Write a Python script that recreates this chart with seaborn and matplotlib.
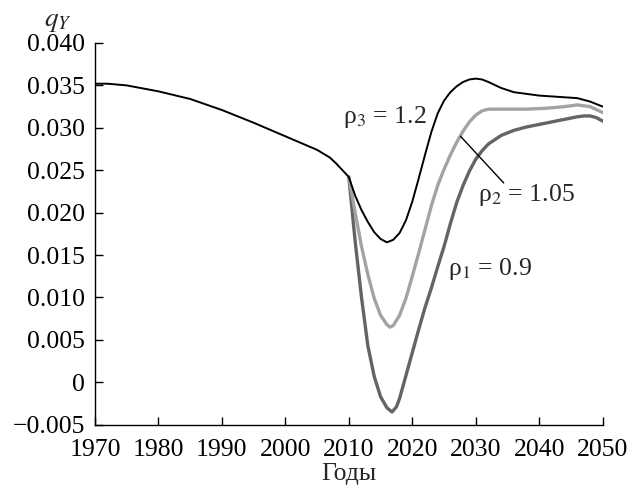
import numpy as np
import pandas as pd
import seaborn as sns
import matplotlib
matplotlib.use("Agg")
import matplotlib.pyplot as plt

# ========================== DATA ==========================
# common history (ρ3 curve carries it)
years_hist = [1970, 1972, 1975, 1980, 1985, 1990, 1995, 2000, 2005, 2007, 2008, 2009]
q_hist = [0.0352, 0.0352, 0.0350, 0.0343, 0.0334, 0.0321, 0.0306, 0.0290, 0.0274, 0.0265, 0.0258, 0.0250]

years_rho3 = [2010, 2011, 2012, 2013, 2014, 2015, 2016, 2017, 2018, 2019, 2020, 2021,
              2022, 2023, 2024, 2025, 2026, 2027, 2028, 2029, 2030, 2031, 2032, 2034,
              2036, 2038, 2040, 2042, 2044, 2046, 2048, 2050]
q_rho3 = [0.0242, 0.0220, 0.0203, 0.0189, 0.0177, 0.0169, 0.0165, 0.0168, 0.0176, 0.0191,
          0.0213, 0.0240, 0.0268, 0.0295, 0.0317, 0.0332, 0.0342, 0.0349, 0.0354, 0.0357,
          0.0358, 0.0357, 0.0354, 0.0347, 0.0342, 0.0340, 0.0338, 0.0337, 0.0336, 0.0335,
          0.0331, 0.0325]

years_rho2 = [2010, 2011, 2012, 2013, 2014, 2015, 2016, 2016.5, 2017, 2018, 2019, 2020,
              2021, 2022, 2023, 2024, 2025, 2026, 2027, 2028, 2029, 2030, 2031, 2032,
              2035, 2038, 2041, 2044, 2046, 2048, 2050]
q_rho2 = [0.0242, 0.0200, 0.0160, 0.0127, 0.0099, 0.0079, 0.0068, 0.0065, 0.0067, 0.0079,
          0.0099, 0.0125, 0.0152, 0.0180, 0.0208, 0.0232, 0.0251, 0.0268, 0.0283, 0.0296,
          0.0307, 0.0315, 0.0320, 0.0322, 0.0322, 0.0322, 0.0323, 0.0325, 0.0327, 0.0325,
          0.0318]

years_rho1 = [2010, 2011, 2012, 2013, 2014, 2015, 2016, 2016.8, 2017.5, 2018, 2019, 2020,
              2021, 2022, 2023, 2024, 2025, 2026, 2027, 2028, 2029, 2030, 2031, 2032,
              2034, 2036, 2038, 2040, 2042, 2044, 2046, 2047, 2048, 2049, 2050]
q_rho1 = [0.0242, 0.0166, 0.0100, 0.0043, 0.0007, -0.0017, -0.0030, -0.0035, -0.0029, -0.0019,
          0.0008, 0.0035, 0.0062, 0.0088, 0.0111, 0.0136, 0.0160, 0.0187, 0.0212, 0.0232,
          0.0249, 0.0263, 0.0273, 0.0281, 0.0291, 0.0297, 0.0301, 0.0304, 0.0307, 0.0310,
          0.0313, 0.0314, 0.0314, 0.0312, 0.0308]

x_ticks = [1970, 1980, 1990, 2000, 2010, 2020, 2030, 2040, 2050]
y_ticks = [-0.005, 0, 0.005, 0.010, 0.015, 0.020, 0.025, 0.030, 0.035, 0.040]
y_tick_labels = ["\u22120.005", "0", "0.005", "0.010", "0.015", "0.020",
                 "0.025", "0.030", "0.035", "0.040"]

# ========================== FRAME ==========================
df3 = pd.DataFrame({"year": years_hist + years_rho3, "q": q_hist + q_rho3})
df2 = pd.DataFrame({"year": years_rho2, "q": q_rho2})
df1 = pd.DataFrame({"year": years_rho1, "q": q_rho1})

# ========================== PLOT ==========================
sns.set_theme(style="ticks")
plt.rcParams["font.family"] = ["Liberation Serif", "DejaVu Serif"]
plt.rcParams["mathtext.fontset"] = "stix"

fig = plt.figure(figsize=(6.43, 4.88), dpi=100)
ax = fig.add_axes([0.1477, 0.1297, 0.7896, 0.7822])

sns.lineplot(data=df1, x="year", y="q", ax=ax, color="#646464", linewidth=2.4)
sns.lineplot(data=df2, x="year", y="q", ax=ax, color="#a3a3a3", linewidth=2.4)
sns.lineplot(data=df3, x="year", y="q", ax=ax, color="black", linewidth=1.4)

# leader line for ρ2
ax.plot([2027.6, 2034.4], [0.0290, 0.0235], color="black", linewidth=1.0)

fs = 18.5
ax.text(2009.1, 0.0313, "ρ$_3$ = 1.2", fontsize=fs, va="center", ha="left")
ax.text(2030.4, 0.0221, "ρ$_2$ = 1.05", fontsize=fs, va="center", ha="left")
ax.text(2025.7, 0.0133, "ρ$_1$ = 0.9", fontsize=fs, va="center", ha="left")

ax.set_xlim(1970, 2050)
ax.set_ylim(-0.005, 0.040)
ax.set_xticks(x_ticks)
ax.set_xticklabels([str(t) for t in x_ticks])
ax.set_yticks(y_ticks)
ax.set_yticklabels(y_tick_labels)
ax.tick_params(direction="in", length=6, width=1, colors="black", labelsize=fs)
ax.tick_params(axis="x", pad=10)
ax.tick_params(axis="y", pad=7)

sns.despine(ax=ax)
for s in ["left", "bottom"]:
    ax.spines[s].set_linewidth(1.0)
    ax.spines[s].set_color("black")

ax.set_xlabel("")
ax.set_ylabel("")
fig.text(0.543, 0.029, "Годы", fontsize=fs, ha="center", va="center")
fig.text(0.09, 0.955, "$q_Y$", fontsize=fs + 1, ha="center", va="center")

plt.savefig("out.png", dpi=100)
